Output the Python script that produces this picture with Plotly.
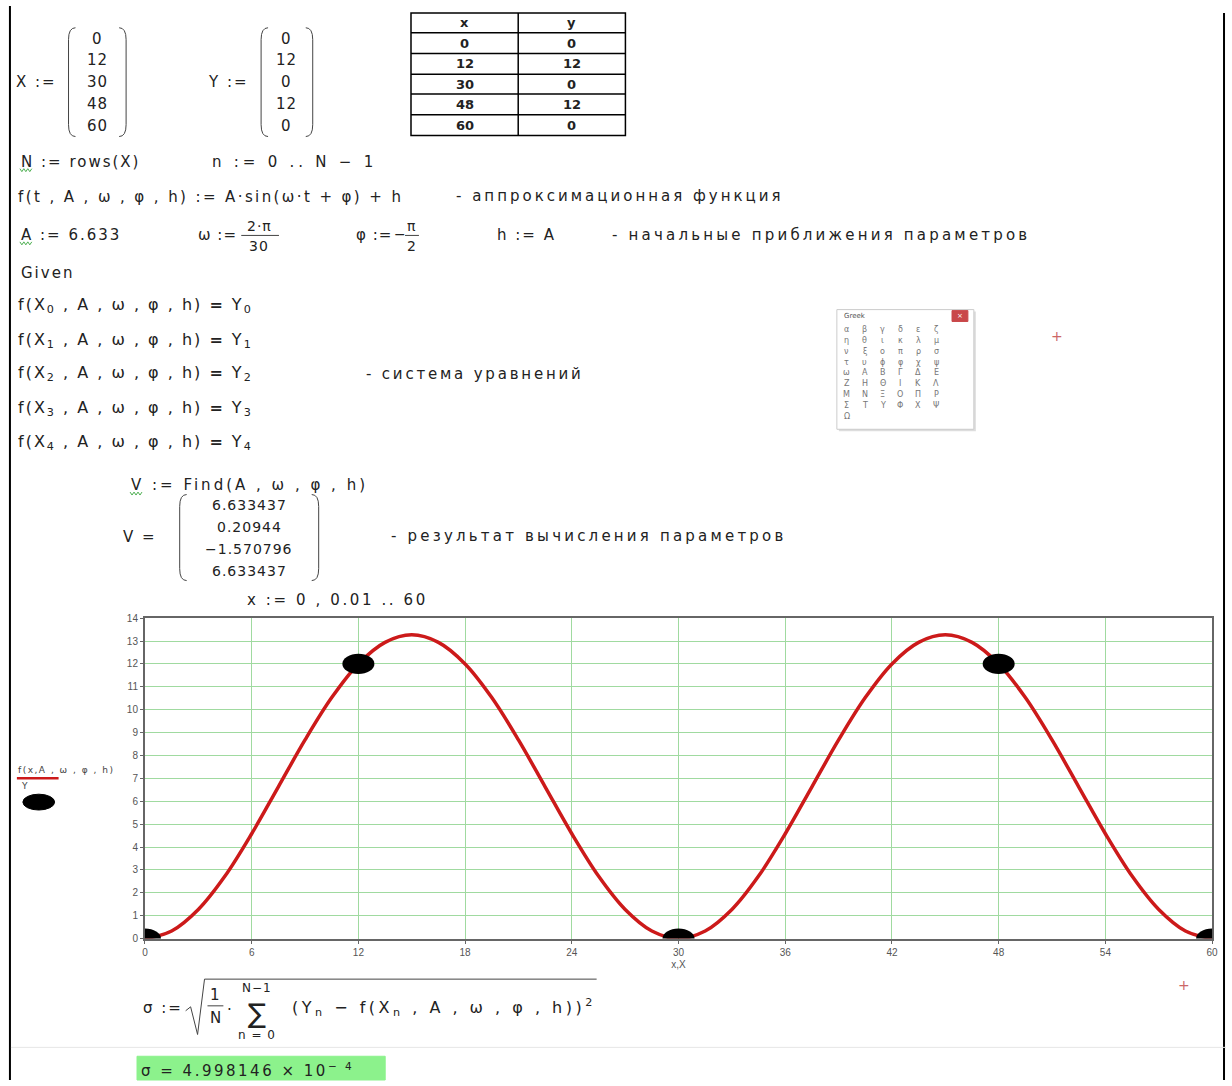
import plotly.graph_objects as go

X = [0, 12, 30, 48, 60]
Y = [0, 12, 0, 12, 0]
V = ["6.633437", "0.20944", "\u22121.570796", "6.633437"]
curve_x = [0, 1.5, 3, 4.5, 6, 7.5, 9, 10.5, 12, 13.5, 15,
           16.5, 18, 19.5, 21, 22.5, 24, 25.5, 27, 28.5, 30,
           31.5, 33, 34.5, 36, 37.5, 39, 40.5, 42, 43.5, 45,
           46.5, 48, 49.5, 51, 52.5, 54, 55.5, 57, 58.5, 60]
curve_y = [0, 0.33, 1.27, 2.73, 4.58, 6.63, 8.68, 10.53, 12.0, 12.94, 13.27,
           12.94, 12.0, 10.53, 8.68, 6.63, 4.58, 2.73, 1.27, 0.33, 0,
           0.33, 1.27, 2.73, 4.58, 6.63, 8.68, 10.53, 12.0, 12.94, 13.27,
           12.94, 12.0, 10.53, 8.68, 6.63, 4.58, 2.73, 1.27, 0.33, 0]
x_ticks = [0, 6, 12, 18, 24, 30, 36, 42, 48, 54, 60]
y_ticks = list(range(0, 15))
sigma_value = "4.998146"
greek_rows = [["\u03b1", "\u03b2", "\u03b3", "\u03b4", "\u03b5", "\u03b6"],
              ["\u03b7", "\u03b8", "\u03b9", "\u03ba", "\u03bb", "\u03bc"],
              ["\u03bd", "\u03be", "\u03bf", "\u03c0", "\u03c1", "\u03c3"],
              ["\u03c4", "\u03c5", "\u03d5", "\u03c6", "\u03c7", "\u03c8"],
              ["\u03c9", "\u0391", "\u0392", "\u0393", "\u0394", "\u0395"],
              ["\u0396", "\u0397", "\u0398", "\u0399", "\u039a", "\u039b"],
              ["\u039c", "\u039d", "\u039e", "\u039f", "\u03a0", "\u03a1"],
              ["\u03a3", "\u03a4", "\u03a5", "\u03a6", "\u03a7", "\u03a8"],
              ["\u03a9"]]

W, H = 1232, 1086
FONT = "DejaVu Sans"
INK = "#222222"


def px(x):
    return x / W


def py(y):
    return 1 - y / H


annotations = []
shapes = []


###################################
# helpers working in page pixels
def txt(x, y, s, size=15, color=INK, anchor="left", family=FONT, ls=2):
    if ls:
        s = f'<span style="letter-spacing:{ls}px">{s}</span>'
    annotations.append(dict(x=px(x), y=py(y), xref="paper", yref="paper",
                            text=s, showarrow=False, xanchor=anchor, yanchor="middle",
                            borderpad=0,
                            font=dict(family=family, size=size, color=color)))


def seg(x0, y0, x1, y1, color=INK, width=1):
    shapes.append(dict(type="line", xref="paper", yref="paper",
                       x0=px(x0), y0=py(y0), x1=px(x1), y1=py(y1),
                       line=dict(color=color, width=width)))


def box(x0, y0, x1, y1, fill=None, color=INK, width=1):
    shapes.append(dict(type="rect", xref="paper", yref="paper",
                       x0=px(x0), y0=py(y0), x1=px(x1), y1=py(y1),
                       fillcolor=fill or "rgba(0,0,0,0)",
                       line=dict(color=color, width=width), layer="below"))


def path(points, color=INK, width=1):
    d = "M " + " L ".join(f"{px(a)},{py(b)}" for a, b in points)
    shapes.append(dict(type="path", xref="paper", yref="paper", path=d,
                       line=dict(color=color, width=width)))


def paren(x, top, bot, side):
    # side=1 left paren opening right, side=-1 right paren
    c = 7 * side
    d = (f"M {px(x + c)},{py(top)} Q {px(x)},{py(top)} {px(x)},{py(top + 12)} "
         f"L {px(x)},{py(bot - 12)} Q {px(x)},{py(bot)} {px(x + c)},{py(bot)}")
    shapes.append(dict(type="path", xref="paper", yref="paper", path=d,
                       line=dict(color="#444", width=1)))


def squiggle(x0, x1, y):
    pts = []
    x = x0
    k = 0
    while x <= x1:
        pts.append((x, y + (1.5 if k % 2 else -1.5)))
        x += 2
        k += 1
    path(pts, color="#4caf50", width=1)


###################################
# page border
seg(7, 0, 7, H, color="#000", width=2)
seg(1230, 7, 1230, H, color="#000", width=2)
seg(8, 1053, W, 1053, color="#e6e6e6", width=1)

# X and Y vectors
txt(12, 77, "X :=")
paren(66, 22, 132, 1)
paren(124, 22, 132, -1)
for i, v in enumerate(X):
    txt(95, 33 + 22 * i, str(v), anchor="center", ls=1)
txt(205, 77, "Y :=")
paren(260, 22, 132, 1)
paren(312, 22, 132, -1)
for i, v in enumerate(Y):
    txt(286, 33 + 22 * i, str(v), anchor="center", ls=1)

# table
box(411, 7, 627, 131, color="#000", width=1.5)
seg(519, 7, 519, 131, color="#000", width=1.5)
row_lines = [27, 48, 69, 89, 110]
for r in row_lines:
    seg(411, r, 627, r, color="#000", width=1.5)
txt(465, 17, "<b>x</b>", size=13, anchor="center", ls=0)
txt(573, 17, "<b>y</b>", size=13, anchor="center", ls=0)
for i in range(len(X)):
    yc = (row_lines[i] + (row_lines[i + 1] if i + 1 < len(row_lines) else 131)) / 2
    txt(465, yc, f"<b>{X[i]}</b>", size=13, anchor="center", ls=0)
    txt(573, yc, f"<b>{Y[i]}</b>", size=13, anchor="center", ls=0)

# definitions
txt(17, 158, "N := rows(X)")
squiggle(17, 29, 166)
txt(210, 158, "n := 0 .. N \u2212 1", ls=3.8)
txt(14, 193, "f(t , A , \u03c9 , \u03c6 , h) := A\u00b7sin(\u03c9\u00b7t + \u03c6) + h", ls=2.4)
txt(455, 192, "- аппроксимационная функция", ls=3.0)

txt(17, 232, "A := 6.633")
squiggle(17, 29, 240)
txt(195, 232, "\u03c9 :=", ls=1)
txt(258, 222, "2\u00b7\u03c0", size=14, anchor="center", ls=1)
seg(240, 232, 278, 232, color="#444")
txt(258, 243, "30", size=14, anchor="center", ls=1)
txt(355, 232, "\u03c6 :=", ls=1)
txt(393, 231, "\u2212", size=14, ls=0)
txt(412, 222, "\u03c0", size=14, anchor="center", ls=0)
seg(405, 232, 419, 232, color="#444")
txt(412, 243, "2", size=14, anchor="center", ls=0)
txt(497, 232, "h := A")
txt(612, 232, "- начальные приближения параметров", ls=3.2)

txt(17, 270, "Given")
for i, yy in enumerate([303, 338, 372, 407, 441]):
    txt(14, yy, f"f(X<sub>{i}</sub> , A , \u03c9 , \u03c6 , h) <b>=</b> Y<sub>{i}</sub>", size=16)
txt(365, 372, "- система уравнений", ls=2.8)

# greek palette
shapes.append(dict(type="rect", xref="paper", yref="paper",
                   x0=px(842), y0=py(309), x1=px(980), y1=py(430),
                   fillcolor="#dddddd", line=dict(width=0), layer="below"))
box(840, 307, 978, 428, fill="#ffffff", color="#cccccc")
txt(846, 313, "Greek", size=7, color="#555", ls=0)
box(956, 308, 972, 319, fill="#c9474a", color="#c9474a")
txt(964, 313, "\u00d7", size=7, color="#fff", anchor="center", ls=0)
for r, row in enumerate(greek_rows):
    for c, ch in enumerate(row):
        txt(850 + 18 * c, 327 + 11 * r, ch, size=8, color="#777", anchor="center", ls=0)

txt(1062, 334, "+", size=14, color="#c66", anchor="center", ls=0)

# Find block
txt(128, 484, "V := Find(A , \u03c9 , \u03c6 , h)", ls=3)
squiggle(128, 141, 493)
txt(120, 537, "V =")
paren(178, 494, 581, 1)
paren(318, 494, 581, -1)
for i, v in enumerate(V):
    txt(248, 505 + 22 * i, v, size=14, anchor="center", ls=1)
txt(390, 536, "- результат вычисления параметров", ls=3.2)
txt(245, 601, "x := 0 , 0.01 .. 60", ls=2.6)

# y-axis label / legend on the left
txt(14, 773, "f(x,A , \u03c9 , \u03c6 , h)", size=9, color="#444", ls=1.5)
seg(14, 781, 56, 781, color="#cc1a1a", width=2.5)
txt(17, 789, "Y", size=9, color="#444", ls=0)
shapes.append(dict(type="circle", xref="paper", yref="paper",
                   x0=px(20), y0=py(797), x1=px(52), y1=py(813),
                   fillcolor="#000", line=dict(color="#000", width=1)))

# sigma formula
txt(140, 1013, "\u03c3 :=")
path([(184, 1016), (189, 1012), (196, 1040), (203, 984), (598, 984)], color="#444", width=1)
txt(214, 1000, "1", anchor="center", ls=0)
seg(206, 1011, 222, 1011, color="#444")
txt(214, 1023, "N", anchor="center", ls=0)
txt(225, 1015, "\u00b7", ls=0)
txt(256, 993, "N\u22121", size=12, anchor="center", ls=1)
txt(256, 1019, "\u2211", size=27, anchor="center", ls=0)
txt(256, 1041, "n = 0", size=12, anchor="center", ls=1)
txt(290, 1013, "(Y<sub>n</sub> \u2212 f(X<sub>n</sub> , A , \u03c9 , \u03c6 , h))<sup>2</sup>", size=16, ls=3.5)
txt(1190, 990, "+", size=14, color="#c66", anchor="center", ls=0)

# sigma result
box(135, 1062, 385, 1086, fill="#8cf28c", color="#8cf28c")
txt(138, 1076, f"\u03c3 = {sigma_value} \u00d7 10<sup>\u2212 4</sup>", ls=2.5)

###################################
# the plot
fig = go.Figure()
fig.add_trace(go.Scatter(x=curve_x, y=curve_y, mode="lines",
                         line=dict(color="#cc1a1a", width=3.5, shape="spline", smoothing=1.0),
                         name="f(x,A,\u03c9,\u03c6,h)", hoverinfo="skip"))
fig.add_trace(go.Scatter(x=X, y=Y, mode="markers", name="Y",
                         marker=dict(color="rgba(0,0,0,0)", size=2)))

# black point ellipses in data coordinates (clipped to the plot area)
for xv, yv in zip(X, Y):
    shapes.append(dict(type="circle", xref="x", yref="y", layer="above",
                       x0=xv - 0.9, x1=xv + 0.9, y0=yv - 0.44, y1=yv + 0.44,
                       fillcolor="#000", line=dict(color="#000", width=0)))

fig.update_layout(width=W, height=H, margin=dict(l=0, r=0, t=0, b=0),
                  paper_bgcolor="white", plot_bgcolor="white", showlegend=False,
                  font=dict(family=FONT, color=INK),
                  annotations=annotations, shapes=shapes)
fig.update_xaxes(domain=[px(143), px(1218)], range=[0, 60], tickvals=x_ticks,
                 showgrid=True, gridcolor="#a0daa0", gridwidth=1.3, zeroline=False,
                 showline=True, linecolor="#666", linewidth=2, mirror=True,
                 ticks="outside", ticklen=3, tickcolor="#666",
                 tickfont=dict(family="Liberation Sans", size=10, color="#555"),
                 title=dict(text="x,X", font=dict(family="Liberation Sans", size=10, color="#555"),
                            standoff=4))
fig.update_yaxes(domain=[py(943), py(619)], range=[0, 14], tickvals=y_ticks,
                 showgrid=True, gridcolor="#a0daa0", gridwidth=1.3, zeroline=False,
                 showline=True, linecolor="#666", linewidth=2, mirror=True,
                 ticks="outside", ticklen=3, tickcolor="#666",
                 tickfont=dict(family="Liberation Sans", size=10, color="#555"))

fig.write_html("out.html", config={"displayModeBar": False},
               post_script="document.body.style.margin='0';")
